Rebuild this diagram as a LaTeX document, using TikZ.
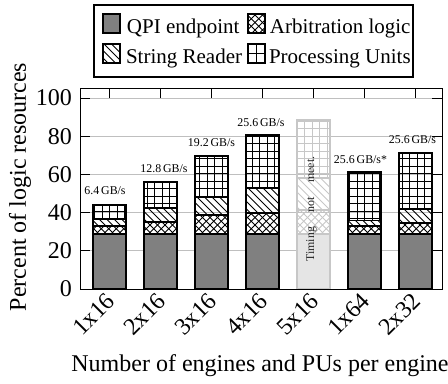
\documentclass[tikz,border=0pt]{standalone}
\usepackage{fontspec}
\setmainfont{Liberation Serif}
\def\pstep{7.5}
% manual patterns, all in px; #1 L, #2 T, #3 R, #4 B, #5 line style
\newcommand{\patgrid}[5]{%
  \begin{scope}
    \clip (#1,#2) rectangle (#3,#4);
    \pgfmathtruncatemacro\pgA{floor((#1-4.5)/\pstep)}%
    \pgfmathtruncatemacro\pgB{ceil((#3-4.5)/\pstep)}%
    \foreach \k in {\pgA,...,\pgB} \draw[#5] (4.5+\k*\pstep,#2) -- (4.5+\k*\pstep,#4);
    \pgfmathtruncatemacro\pgA{floor((#2-1)/\pstep)}%
    \pgfmathtruncatemacro\pgB{ceil((#4-1)/\pstep)}%
    \foreach \k in {\pgA,...,\pgB} \draw[#5] (#1,1+\k*\pstep) -- (#3,1+\k*\pstep);
  \end{scope}}
\newcommand{\patnw}[5]{%
  \begin{scope}
    \clip (#1,#2) rectangle (#3,#4);
    \pgfmathtruncatemacro\pgA{floor((#1-#4)/\pstep)-1}%
    \pgfmathtruncatemacro\pgB{ceil((#3-#2)/\pstep)+1}%
    \foreach \k in {\pgA,...,\pgB}
      \draw[#5] (\k*\pstep+#2-10,#2-10) -- (\k*\pstep+#4+10,#4+10);
  \end{scope}}
\newcommand{\patne}[5]{%
  \begin{scope}
    \clip (#1,#2) rectangle (#3,#4);
    \pgfmathtruncatemacro\pgA{floor((#1+#2)/\pstep)-1}%
    \pgfmathtruncatemacro\pgB{ceil((#3+#4)/\pstep)+1}%
    \foreach \k in {\pgA,...,\pgB}
      \draw[#5] (\k*\pstep-#2+10,#2-10) -- (\k*\pstep-#4-10,#4+10);
  \end{scope}}
\newcommand{\patcross}[5]{\patnw{#1}{#2}{#3}{#4}{#5}\patne{#1}{#2}{#3}{#4}{#5}}
% bar: #1 centre x, #2..#5 cumulative values, #6 style prefix
\newcommand{\drawbar}[6]{%
  \pgfmathsetmacro\bL{#1-16.5}%
  \pgfmathsetmacro\bR{#1+16.5}%
  \pgfmathsetmacro\bZ{289}%
  \pgfmathsetmacro\bA{289-1.91*#2}%
  \pgfmathsetmacro\bB{289-1.91*#3}%
  \pgfmathsetmacro\bC{289-1.91*#4}%
  \pgfmathsetmacro\bD{289-1.91*#5}%
  \fill[#6qpifill] (\bL,\bA) rectangle (\bR,\bZ);
  \patcross{\bL}{\bB}{\bR}{\bA}{#6patline}
  \patnw{\bL}{\bC}{\bR}{\bB}{#6patline}
  \patgrid{\bL}{\bD}{\bR}{\bC}{#6patline}
  \draw[#6barline] (\bL,\bZ) rectangle (\bR,\bA);
  \draw[#6barline] (\bL,\bA) rectangle (\bR,\bB);
  \draw[#6barline] (\bL,\bB) rectangle (\bR,\bC);
  \draw[#6barline] (\bL,\bC) rectangle (\bR,\bD);}
\begin{document}
\begin{tikzpicture}[x=0.4pt,y=-0.4pt,
  every node/.style={inner sep=0pt, outer sep=0pt},
  mainfont/.style={font=\fontsize{9.6}{11.5}\selectfont},
  legfont/.style={font=\fontsize{8.4}{10}\selectfont},
  smallfont/.style={font=\fontsize{4.75}{6}\selectfont},
  barline/.style={draw=black, line width=0.6pt},
  qpifill/.style={fill=black!50},
  patline/.style={draw=black, line width=0.4pt},
  fbarline/.style={draw=black!22, line width=0.6pt},
  fqpifill/.style={fill=black!10},
  fpatline/.style={draw=black!22, line width=0.4pt},
  gridline/.style={draw=black!25, line width=0.4pt},
  tickline/.style={draw=black, line width=0.4pt},
  legsym/.style={draw=black, line width=0.5pt}
]
\useasboundingbox (0,0) rectangle (448,383);

% grid lines
\foreach \v in {20,40,60,80,100}
  \draw[gridline] (80,289-1.91*\v) -- (442,289-1.91*\v);

% bottom ticks (hidden under bars)
\foreach \c in {109.5,160.5,211.5,262.5,313.5,364.5,415.5}
  \draw[tickline] (\c,289) -- (\c,279);

% bars
\drawbar{109.5}{28.8}{33}{36.6}{44}{}
\drawbar{160.5}{28.8}{35}{42.4}{56}{}
\drawbar{211.5}{28.8}{38.7}{48}{69.6}{}
\drawbar{262.5}{28.8}{39.8}{52.9}{80.6}{}
\drawbar{313.5}{28.8}{41.4}{58}{88.5}{f}
\drawbar{364.5}{28.8}{33}{36}{61.3}{}
\drawbar{415.5}{28.8}{34.6}{41.9}{71.2}{}

% axis frame and ticks
\draw[tickline] (80,88) rectangle (442,289);
\foreach \v in {0,20,40,60,80,100} {
  \draw[tickline] (80,289-1.91*\v) -- (90,289-1.91*\v);
  \draw[tickline] (442,289-1.91*\v) -- (432,289-1.91*\v);
}
\foreach \c in {109.5,160.5,211.5,262.5,313.5,364.5,415.5}
  \draw[tickline] (\c,88) -- (\c,98);

% y tick labels
\foreach \v in {0,20,40,60,80,100}
  \node[mainfont, anchor=east] (yl\v) at (72,289-1.91*\v) {\v};

% x tick labels
\foreach \c/\t [count=\i] in {109.5/1x16,160.5/2x16,211.5/3x16,262.5/4x16,313.5/5x16,364.5/1x64,415.5/2x32}
  \node[mainfont, rotate=45, anchor=east] (xl\i) at (\c+1,297) {\t};

% bandwidth labels
\node[smallfont] (bw1) at (105,191) {6.4\,GB/s};
\node[smallfont] (bw2) at (164,169) {12.8\,GB/s};
\node[smallfont] (bw3) at (211.5,143) {19.2\,GB/s};
\node[smallfont] (bw4) at (261,123) {25.6\,GB/s};
\node[smallfont] (bw6) at (360.5,160) {25.6\,GB/s*};
\node[smallfont] (bw7) at (412.5,140) {25.6\,GB/s};

% timing note
\node[smallfont, rotate=90, text=black!85] (tnm) at (311.5,209) {\makebox[42pt][s]{Timing not meet.}};

% axis labels
\node[mainfont] (xlab) at (260,366) {Number of engines and PUs per engine};
\node[mainfont, rotate=90] (ylab) at (20,187) {Percent of logic resources};

% legend
\draw[line width=0.5pt] (94,5) rectangle (413,77);
\fill[qpifill] (103,14) rectangle (120,33);
\draw[legsym] (103,14) rectangle (120,33);
\patcross{248}{14}{265}{33}{patline}
\draw[legsym] (248,14) rectangle (265,33);
\patnw{103}{44}{120}{63}{patline}
\draw[legsym] (103,44) rectangle (120,63);
\draw[patline] (256.5,44) -- (256.5,63) (248,53.5) -- (265,53.5);
\draw[legsym] (248,44) rectangle (265,63);
\node[legfont, anchor=base west] (l1) at (127,33) {QPI endpoint};
\node[legfont, anchor=base west] (l2) at (270,33) {Arbitration logic};
\node[legfont, anchor=base west] (l3) at (126,63) {String Reader};
\node[legfont, anchor=base west] (l4) at (269,63) {Processing Units};
\end{tikzpicture}
\end{document}
